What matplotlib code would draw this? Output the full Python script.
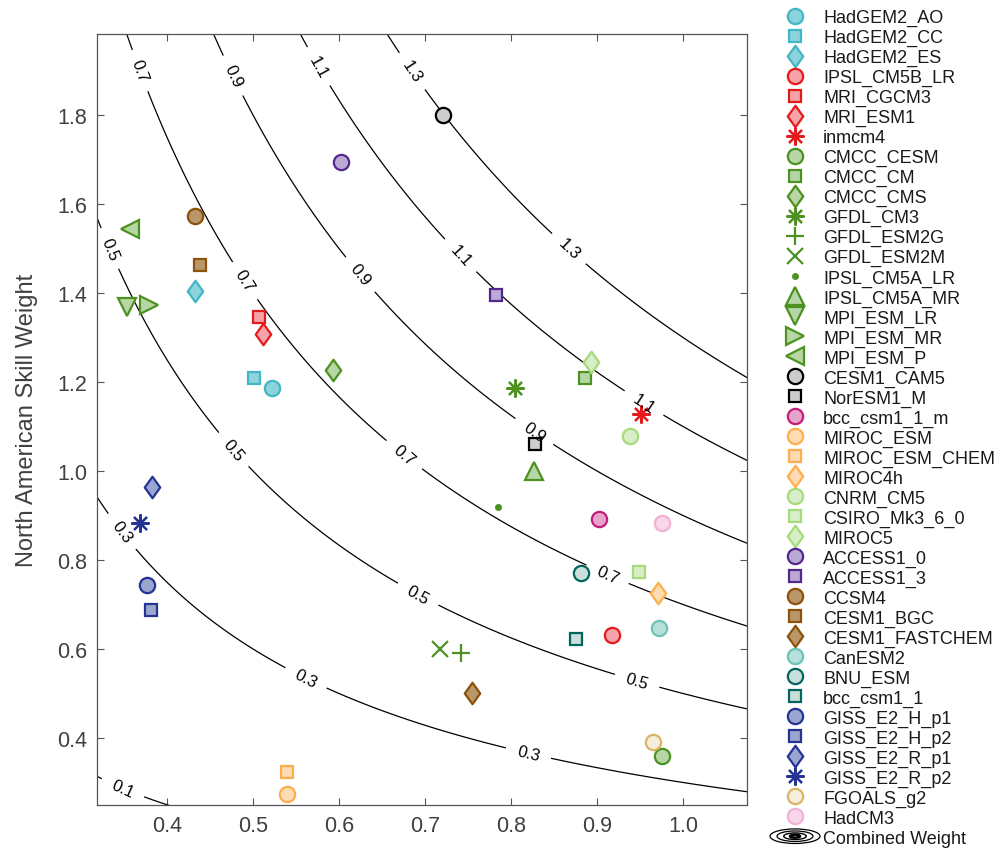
import numpy as np
import matplotlib
matplotlib.use('Agg')
import matplotlib.pyplot as plt
from matplotlib.path import Path
from matplotlib.legend_handler import HandlerBase
from matplotlib.patches import Ellipse

plt.rcParams['font.family'] = ['Liberation Sans', 'DejaVu Sans']

# ---------------- data ----------------
models = ['HadGEM2_AO', 'HadGEM2_CC', 'HadGEM2_ES', 'IPSL_CM5B_LR', 'MRI_CGCM3',
          'MRI_ESM1', 'inmcm4', 'CMCC_CESM', 'CMCC_CM', 'CMCC_CMS', 'GFDL_CM3',
          'GFDL_ESM2G', 'GFDL_ESM2M', 'IPSL_CM5A_LR', 'IPSL_CM5A_MR', 'MPI_ESM_LR',
          'MPI_ESM_MR', 'MPI_ESM_P', 'CESM1_CAM5', 'NorESM1_M', 'bcc_csm1_1_m',
          'MIROC_ESM', 'MIROC_ESM_CHEM', 'MIROC4h', 'CNRM_CM5', 'CSIRO_Mk3_6_0',
          'MIROC5', 'ACCESS1_0', 'ACCESS1_3', 'CCSM4', 'CESM1_BGC', 'CESM1_FASTCHEM',
          'CanESM2', 'BNU_ESM', 'bcc_csm1_1', 'GISS_E2_H_p1', 'GISS_E2_H_p2',
          'GISS_E2_R_p1', 'GISS_E2_R_p2', 'FGOALS_g2', 'HadCM3']

x_skill = [0.522, 0.501, 0.432, 0.917, 0.507,
           0.512, 0.951, 0.976, 0.886, 0.593, 0.805,
           0.742, 0.718, 0.785, 0.827, 0.354,
           0.379, 0.357, 0.721, 0.828, 0.902,
           0.540, 0.540, 0.971, 0.938, 0.949,
           0.893, 0.602, 0.782, 0.432, 0.438, 0.755,
           0.972, 0.881, 0.875, 0.377, 0.381,
           0.383, 0.369, 0.965, 0.976]

na_skill = [1.186, 1.209, 1.404, 0.632, 1.345,
            1.308, 1.128, 0.360, 1.209, 1.227, 1.187,
            0.591, 0.599, 0.918, 1.000, 1.369,
            1.374, 1.544, 1.800, 1.061, 0.891,
            0.274, 0.323, 0.725, 1.079, 0.774,
            1.244, 1.695, 1.396, 1.574, 1.463, 0.501,
            0.648, 0.771, 0.623, 0.744, 0.688,
            0.965, 0.883, 0.390, 0.883]

contour_levels = [0.1, 0.3, 0.5, 0.7, 0.9, 1.1, 1.3]
xtick_vals = [0.4, 0.5, 0.6, 0.7, 0.8, 0.9, 1.0]
ytick_vals = [0.4, 0.6, 0.8, 1.0, 1.2, 1.4, 1.6, 1.8]
y_label = 'North American Skill Weight'
combined_label = 'Combined Weight'

# ---------------- styles ----------------
DIAMOND = Path([(0, 1), (0.72, 0), (0, -1), (-0.72, 0), (0, 1)],
               [Path.MOVETO, Path.LINETO, Path.LINETO, Path.LINETO, Path.CLOSEPOLY])
AST = (8, 2, 0)

markers = ['o', 's', DIAMOND, 'o', 's',
           DIAMOND, AST, 'o', 's', DIAMOND, AST,
           '+', 'x', '.', '^', 'v',
           '>', '<', 'o', 's', 'o',
           'o', 's', DIAMOND, 'o', 's',
           DIAMOND, 'o', 's', 'o', 's', DIAMOND,
           'o', 'o', 's', 'o', 's',
           DIAMOND, AST, 'o', 'o']

C_CYAN = ('#41b6c4', '#8dd3dd')
C_RED = ('#e41a1c', '#f4a3a8')
C_GREEN = ('#4d9221', '#b6d6a6')
C_BLACK = ('#000000', '#cccccc')
C_MAG = ('#c51b7d', '#e7a4cb')
C_ORANGE = ('#fdae4b', '#fddcb4')
C_LGREEN = ('#a6db7a', '#d8eec8')
C_PURPLE = ('#54278f', '#b9aad3')
C_BROWN = ('#8c510a', '#b9976b')
C_CAN = ('#6cc3b6', '#b6e0da')
C_TEAL = ('#01665e', '#c9dfdc')
C_NAVY = ('#253494', '#9aa6cf')
C_FGO = ('#dcb465', '#f5eedc')
C_PINK = ('#f1b0d4', '#f8d8e8')

colors = [C_CYAN, C_CYAN, C_CYAN, C_RED, C_RED,
          C_RED, C_RED, C_GREEN, C_GREEN, C_GREEN, C_GREEN,
          C_GREEN, C_GREEN, C_GREEN, C_GREEN, C_GREEN,
          C_GREEN, C_GREEN, C_BLACK, C_BLACK, C_MAG,
          C_ORANGE, C_ORANGE, C_ORANGE, C_LGREEN, C_LGREEN,
          C_LGREEN, C_PURPLE, C_PURPLE, C_BROWN, C_BROWN, C_BROWN,
          C_CAN, C_TEAL, C_TEAL, C_NAVY, C_NAVY,
          C_NAVY, C_NAVY, C_FGO, C_PINK]


def marker_size(m):
    if m is DIAMOND:
        return 15.5
    if m == 'o':
        return 11
    if m == 's':
        return 9
    if m in ('^', 'v', '<', '>'):
        return 13.5
    if m == AST:
        return 13
    if m == '+':
        return 13
    if m == 'x':
        return 11
    if m == '.':
        return 8
    return 10


class ContourIcon:
    pass


class HandlerContourIcon(HandlerBase):
    def create_artists(self, legend, orig_handle, xdescent, ydescent,
                       width, height, fontsize, trans):
        cx = 0.5 * width - xdescent
        cy = 0.5 * height - ydescent
        arts = []
        for f, lw in [(1.0, 0.9), (0.72, 0.9), (0.45, 1.0), (0.2, 1.8)]:
            e = Ellipse((cx, cy), width * f, height * 1.15 * f, fill=False,
                        edgecolor='black', linewidth=lw, transform=trans)
            arts.append(e)
        return arts


# ---------------- figure ----------------
fig = plt.figure(figsize=(10.03, 8.54), dpi=100)
ax = fig.add_axes([97 / 1003, 1 - 806 / 854, 650 / 1003, 771 / 854])

# contours of the combined weight (product)
gx = np.linspace(0.25, 1.15, 400)
gy = np.linspace(0.15, 2.1, 400)
GX, GY = np.meshgrid(gx, gy)
GZ = GX * GY
cs = ax.contour(GX, GY, GZ, levels=contour_levels, colors='black', linewidths=0.9)
label_pos = [(0.348, 0.285),
             (0.346, 0.862), (0.561, 0.533), (0.820, 0.364),
             (0.332, 1.499), (0.476, 1.046), (0.691, 0.720), (0.946, 0.525),
             (0.369, 1.900), (0.491, 1.428), (0.675, 1.0345), (0.912, 0.767),
             (0.476, 1.888), (0.623, 1.439), (0.828, 1.091),
             (0.574, 1.907), (0.740, 1.482), (0.954, 1.151),
             (0.683, 1.896), (0.867, 1.499)]
ax.clabel(cs, inline=True, fontsize=12, fmt='%.1f', manual=label_pos, inline_spacing=8)

handles = []
for name, xv, yv, m, (ec, fc) in zip(models, x_skill, na_skill, markers, colors):
    ms = marker_size(m)
    if m in ('+', 'x', AST):
        h, = ax.plot([xv], [yv], linestyle='none', marker=m, markersize=ms,
                     markeredgecolor=ec, markerfacecolor=ec, markeredgewidth=1.6,
                     label=name, zorder=3)
    elif m == '.':
        h, = ax.plot([xv], [yv], linestyle='none', marker='.', markersize=ms,
                     markeredgecolor=ec, markerfacecolor=ec, markeredgewidth=1.0,
                     label=name, zorder=3)
    else:
        h, = ax.plot([xv], [yv], linestyle='none', marker=m, markersize=ms,
                     markeredgecolor=ec, markerfacecolor=fc, markeredgewidth=1.6,
                     label=name, zorder=3)
    handles.append(h)

ax.set_xlim(0.3186, 1.0744)
ax.set_ylim(0.2494, 1.982)
ax.set_xticks(xtick_vals)
ax.set_yticks(ytick_vals)
ax.set_xticklabels(['%.1f' % v for v in xtick_vals])
ax.set_yticklabels(['%.1f' % v for v in ytick_vals])
ax.tick_params(axis='both', direction='in', top=True, right=True, length=5,
               width=0.8, color='#555555', labelsize=15.5, labelcolor='#404040', pad=7)
for sp in ax.spines.values():
    sp.set_color('#555555')
    sp.set_linewidth(0.9)

ax.set_ylabel(y_label, fontsize=17, color='#404040', labelpad=14)

icon = ContourIcon()
leg = fig.legend(handles + [icon], models + [combined_label],
                 handler_map={ContourIcon: HandlerContourIcon()},
                 loc='upper left', bbox_to_anchor=(770 / 1003, 1 - 10 / 854),
                 frameon=False, fontsize=13, labelspacing=0.158, handlelength=2.77,
                 handletextpad=0.17, borderpad=0, borderaxespad=0, numpoints=1)
for t in leg.get_texts():
    t.set_color('#1a1a1a')

fig.savefig('out.png', dpi=100)
